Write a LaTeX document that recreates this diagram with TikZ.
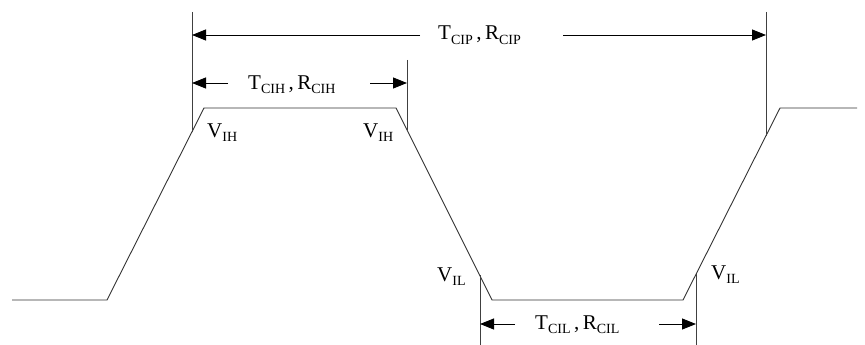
\documentclass[tikz,border=0pt]{standalone}
\usepackage{fontspec}
\setmainfont{Liberation Serif}
\usetikzlibrary{positioning,arrows.meta,calc}

\newcommand{\sig}[2]{#1\raisebox{-0.45ex}{\fontsize{14}{14}\selectfont #2}}

\begin{document}
\begin{tikzpicture}[
  x=1pt, y=-1pt,
  wave/.style={draw=black!80, line width=0.9pt, line join=miter},
  rule/.style={draw=black!75, line width=0.8pt},
  dim/.style={->, draw=black, line width=0.8pt,
    >={Triangle[length=14pt, width=11pt]}},
  lbl/.style={anchor=base west, inner sep=0pt,
    font=\fontsize{21}{25}\selectfont}
]
  \useasboundingbox (0,0) rectangle (865,345);

  % --- Signal ---
  \draw[wave] (12,300) -- (107,300) -- (204,108) -- (396,108)
    -- (492,300) -- (683,300) -- (780,108) -- (857,108);

  % --- Lignes de repere ---
  \coordinate (tL) at (192,12);   \coordinate (tLb) at (192,132);
  \coordinate (tR) at (766,12);   \coordinate (tRb) at (766,136);
  \coordinate (hR) at (407,60);   \coordinate (hRb) at (407,130);
  \coordinate (lL) at (480,275);  \coordinate (lLb) at (480,345);
  \coordinate (lR) at (696,274);  \coordinate (lRb) at (696,345);
  \draw[rule] (tL) -- (tLb);
  \draw[rule] (tR) -- (tRb);
  \draw[rule] (hR) -- (hRb);
  \draw[rule] (lL) -- (lLb);
  \draw[rule] (lR) -- (lRb);

  % --- Niveaux ---
  \node[lbl] (vih1) at (207,137) {\sig{V}{IH}};
  \node[lbl] (vih2) at (363,137) {\sig{V}{IH}};
  \node[lbl] (vil1) at (437,281) {\sig{V}{IL}};
  \node[lbl] (vil2) at (711,279) {\sig{V}{IL}};

  % --- Periode ---
  \node[lbl] (cip) at (438,40) {\sig{T}{CIP}\,,\,\sig{R}{CIP}};
  \coordinate (cipA) at (420,35);
  \coordinate (cipB) at (563,35);
  \draw[dim] (cipA) -- (cipA -| tL);
  \draw[dim] (cipB) -- (cipB -| tR);

  % --- Niveau haut ---
  \node[lbl] (cih) at (248,89) {\sig{T}{CIH}\,,\,\sig{R}{CIH}};
  \coordinate (cihA) at (228,83);
  \coordinate (cihB) at (370,83);
  \draw[dim] (cihA) -- (cihA -| tL);
  \draw[dim] (cihB) -- (cihB -| hR);

  % --- Niveau bas ---
  \node[lbl] (cil) at (535,329) {\sig{T}{CIL}\,,\,\sig{R}{CIL}};
  \coordinate (cilA) at (515,324);
  \coordinate (cilB) at (659,324);
  \draw[dim] (cilA) -- (cilA -| lL);
  \draw[dim] (cilB) -- (cilB -| lR);

\end{tikzpicture}
\end{document}
